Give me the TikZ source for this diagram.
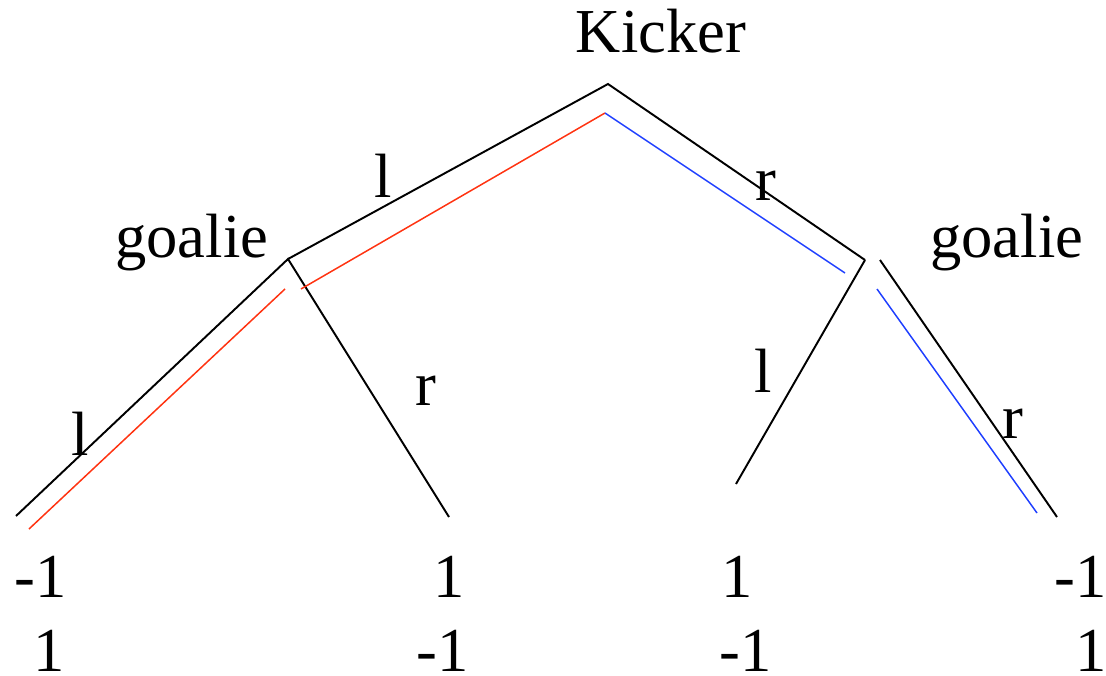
\documentclass[tikz,border=0pt]{standalone}
\usepackage{fontspec}
\setmainfont{Liberation Serif}
\usepackage{xcolor}
\usetikzlibrary{positioning}
\definecolor{kickred}{HTML}{FF3311}
\definecolor{kickblue}{HTML}{1F3FFF}

\begin{document}
\begin{tikzpicture}[x=0.02cm, y=-0.02cm,
    branch/.style={line width=1.1pt, black},
    path red/.style={line width=0.85pt, kickred},
    path blue/.style={line width=0.85pt, kickblue},
    lbl/.style={inner sep=0pt, font=\fontsize{35.6}{40}\selectfont}
]
    \useasboundingbox (0,0) rectangle (1106,676);

    % Players
    \node[lbl, anchor=base] (kicker) at (661,52) {Kicker};
    \node[lbl, anchor=base west] (goalieL) at (115,257) {goalie};
    \node[lbl, anchor=base west] (goalieR) at (930,257) {goalie};

    % Tree vertices
    \coordinate (root) at (608,84);
    \coordinate (gL) at (288,259);
    \coordinate (gR) at (865,260);
    \coordinate (gRr) at (880,260);
    \coordinate (leafLL) at (16,516);
    \coordinate (leafLR) at (449,517);
    \coordinate (leafRL) at (736,484);
    \coordinate (leafRR) at (1057,517);

    % Branches
    \draw[branch] (gL) -- (root) -- (gR);
    \draw[branch] (leafLL) -- (gL) -- (leafLR);
    \draw[branch] (gR) -- (leafRL);
    \draw[branch] (gRr) -- (leafRR);

    % Equilibrium paths
    \coordinate (top) at (605,113);
    \coordinate (redA) at (29,529);
    \coordinate (redB) at (285,289);
    \coordinate (redC) at (301,289);
    \coordinate (blueA) at (845,273);
    \coordinate (blueB) at (877,289);
    \coordinate (blueC) at (1037,513);
    \draw[path red] (redA) -- (redB);
    \draw[path red] (redC) -- (top);
    \draw[path blue] (top) -- (blueA);
    \draw[path blue] (blueB) -- (blueC);

    % Actions
    \node[lbl, anchor=base] (aL) at (383,197) {l};
    \node[lbl, anchor=base] (aR) at (766,200) {r};
    \node[lbl, anchor=base] (aLL) at (80,455) {l};
    \node[lbl, anchor=base] (aLR) at (426,405) {r};
    \node[lbl, anchor=base] (aRL) at (763,392) {l};
    \node[lbl, anchor=base] (aRR) at (1013,438) {r};

    % Payoffs
    \node[lbl, anchor=base east] (p1k) at (67,597) {-1};
    \node[lbl, anchor=base east] (p1g) at (65,671) {1};
    \node[lbl, anchor=base east] (p2k) at (465,597) {1};
    \node[lbl, anchor=base east] (p2g) at (469,671) {-1};
    \node[lbl, anchor=base east] (p3k) at (753,597) {1};
    \node[lbl, anchor=base east] (p3g) at (772,671) {-1};
    \node[lbl, anchor=base east] (p4k) at (1107,597) {-1};
    \node[lbl, anchor=base east] (p4g) at (1107,671) {1};

\end{tikzpicture}
\end{document}
